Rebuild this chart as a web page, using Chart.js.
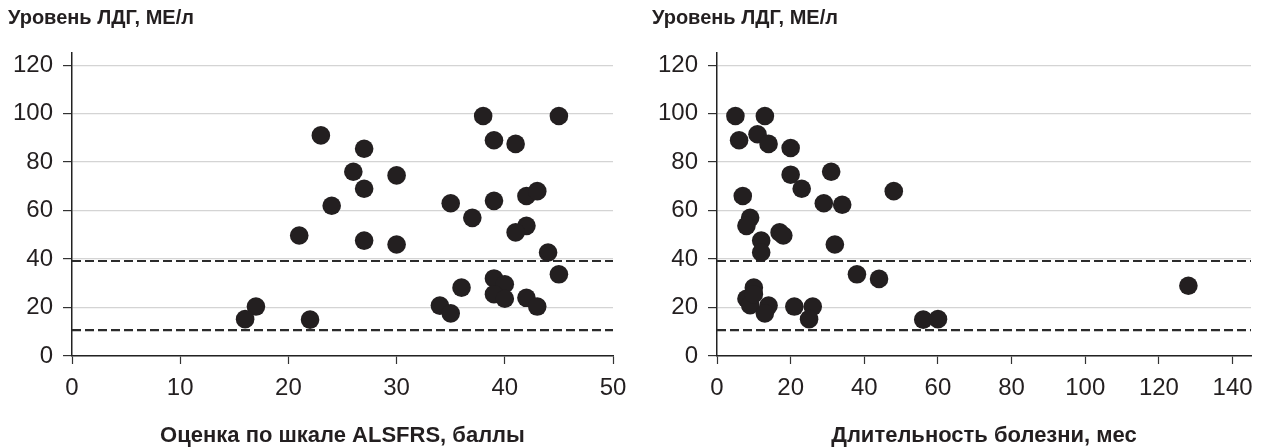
<!DOCTYPE html>
<html>
<head>
<meta charset="utf-8">
<script src="https://cdn.jsdelivr.net/npm/chart.js@4"></script>
<style>
  html, body { margin: 0; padding: 0; background: #fff; }
  .wrap { display: flex; width: 1264px; height: 448px; }
  .box { position: relative; width: 632px; height: 448px; }
</style>
</head>
<body>
<div class="wrap">
  <div class="box"><canvas id="left"></canvas></div>
  <div class="box"><canvas id="right"></canvas></div>
</div>
<script>
// ЛДГ vs ALSFRS
const alsfrsScore = [23, 27, 26, 27, 24, 21, 27, 17, 16, 22, 30, 30, 38, 45, 39, 41, 35, 39, 42, 43, 37, 42, 41, 44, 45, 39, 40, 39, 40, 36, 34, 35, 42, 43]
const ldhByScore = [91, 85.5, 76, 69, 62, 49.7, 47.6, 20.4, 15.2, 15, 74.5, 46, 99, 99, 89, 87.5, 63, 64, 66, 68, 57, 53.7, 51, 42.7, 33.7, 32, 29.6, 25.5, 23.6, 28.2, 20.8, 17.6, 24, 20.4]

// ЛДГ vs длительность болезни
const durationMonths = [5, 13, 6, 11, 14, 20, 20, 31, 23, 48, 7, 29, 34, 9, 8, 17, 18, 12, 12, 32, 38, 44, 10, 8, 9, 10, 14, 13, 21, 26, 25, 56, 60, 128]
const ldhByDuration = [99, 99, 89, 91.5, 87.5, 85.8, 74.8, 76, 69, 68, 66, 63, 62.4, 57, 53.7, 51, 49.7, 47.6, 42.7, 46, 33.7, 31.8, 28.2, 23.6, 21, 25.5, 20.8, 17.6, 20.4, 20.4, 15.2, 15, 15.2, 29]

// reference levels (dashed)
const ldhLimits = [39.2, 10.7]
const yTicks = [0, 20, 40, 60, 80, 100, 120]

const ink = '#231f20'
const tickFont = { family: 'Liberation Sans, Arial, sans-serif', size: 24 }
const titleFont = { family: 'Liberation Sans, Arial, sans-serif', size: 20, weight: 'bold', lineHeight: 1 }
const xTitleFont = { family: 'Liberation Sans, Arial, sans-serif', size: 22, weight: 'bold', lineHeight: 1 }

function makeChart(id, xs, ys, xMax, xStep, xTitle, pad, yWidth) {
  const pts = xs.map((x, i) => ({ x: x, y: ys[i] }))
  const limitSets = ldhLimits.map((v, i) => ({
    type: 'line',
    data: [{ x: 0, y: v }, { x: xMax, y: v }],
    borderColor: '#2b2b2b',
    borderWidth: 2.2,
    borderDash: [9, 4],
    pointRadius: 0,
    order: i + 1
  }))
  return new Chart(document.getElementById(id), {
    type: 'scatter',
    data: {
      datasets: [
        {
          data: pts,
          backgroundColor: ink,
          borderWidth: 0,
          pointRadius: 9.3,
          pointHoverRadius: 9.3,
          order: 0
        },
        ...limitSets
      ]
    },
    options: {
      responsive: true,
      maintainAspectRatio: false,
      animation: false,
      layout: { padding: { left: pad.left, right: pad.right, top: 0, bottom: 0 } },
      plugins: {
        legend: { display: false },
        tooltip: { enabled: false },
        title: {
          display: true,
          text: 'Уровень ЛДГ, МЕ/л',
          align: 'start',
          color: ink,
          font: titleFont,
          padding: { top: 8, bottom: 25 }
        }
      },
      scales: {
        x: {
          type: 'linear',
          min: 0,
          max: xMax,
          ticks: {
            stepSize: xStep,
            includeBounds: false,
            color: ink,
            font: tickFont,
            padding: 10
          },
          grid: {
            drawOnChartArea: false,
            drawTicks: true,
            tickLength: 8,
            tickColor: '#333',
            tickWidth: 1.2
          },
          border: { color: '#222', width: 1.5 },
          title: {
            display: true,
            text: xTitle,
            color: ink,
            font: xTitleFont,
            padding: { top: 0, bottom: 1 }
          },
          afterFit: s => { s.height = 92; s.paddingLeft = 0; s.paddingRight = 0 }
        },
        y: {
          min: 0,
          max: 125,
          afterBuildTicks: s => { s.ticks = yTicks.map(v => ({ value: v })) },
          ticks: {
            color: ink,
            font: tickFont,
            padding: 10
          },
          grid: {
            color: '#d4d4d4',
            lineWidth: 1.2,
            tickLength: 9,
            tickColor: '#333',
            tickWidth: 1.2
          },
          border: { color: '#222', width: 1.5 },
          afterFit: s => { s.width = yWidth; s.paddingTop = 0; s.paddingBottom = 0 }
        }
      }
    }
  })
}

makeChart('left', alsfrsScore, ldhByScore, 50, 10, 'Оценка по шкале ALSFRS, баллы', { left: 8, right: 19 }, 64)
makeChart('right', durationMonths, ldhByDuration, 145, 20, 'Длительность болезни, мес', { left: 20, right: 13 }, 65)
</script>
</body>
</html>
